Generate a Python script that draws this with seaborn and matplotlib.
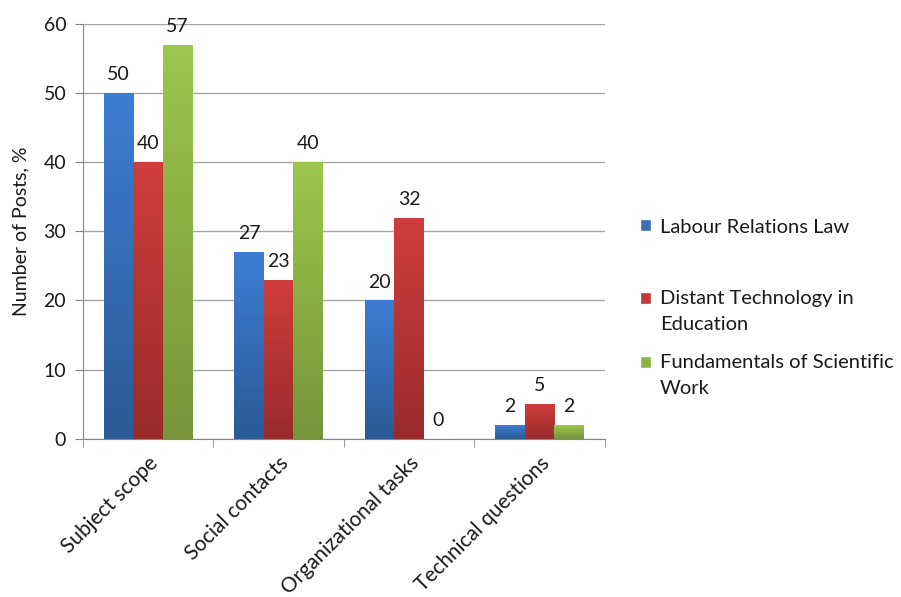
import numpy as np
import pandas as pd
import seaborn as sns
import matplotlib.pyplot as plt
from matplotlib.colors import LinearSegmentedColormap

categories = ["Subject scope", "Social contacts", "Organizational tasks", "Technical questions"]
series = ["Labour Relations Law", "Distant Technology in\nEducation", "Fundamentals of Scientific\nWork"]
labour = [50, 27, 20, 2]
distant = [40, 23, 32, 5]
fundamentals = [57, 40, 0, 2]

# colours: (top, bottom) of the gradient, mid colour for legend
grad = [("#3d7dd3", "#2b5a96"), ("#cf3d3d", "#9a2b2b"), ("#9cc64c", "#76953a")]
mids = ["#3a6fb8", "#c03a3a", "#8cb443"]

df = pd.DataFrame({
    "category": categories * 3,
    "series": np.repeat(series, len(categories)),
    "value": labour + distant + fundamentals,
})

sns.set_style("white")
plt.rcParams["font.family"] = ["Lato", "DejaVu Sans"]

fig = plt.figure(figsize=(9.01, 5.97), dpi=100)
ax = fig.add_axes([0.092, 0.265, 0.579, 0.695])

sns.barplot(data=df, x="category", y="value", hue="series", palette=mids,
            width=0.68, gap=0, ax=ax, saturation=1, legend=True)
handles, labels = ax.get_legend_handles_labels()
ax.get_legend().remove()

ax.set_ylim(0, 60)
ax.set_xlim(-0.5, 3.5)
ax.set_yticks(range(0, 61, 10))
ax.yaxis.grid(True, color="#a6a6a6", linewidth=1)
ax.set_axisbelow(True)
for s in ["top", "right"]:
    ax.spines[s].set_visible(False)
ax.spines["left"].set_color("#868686")
ax.spines["bottom"].set_color("#868686")

# gradient fill on each bar
for cont, (top, bot) in zip(ax.containers, grad):
    cmap = LinearSegmentedColormap.from_list("g", [bot, top])
    for p in cont.patches:
        x0, y0 = p.get_x(), p.get_y()
        w, h = p.get_width(), p.get_height()
        if h <= 0:
            continue
        img = ax.imshow(np.linspace(0, 1, 100).reshape(-1, 1), cmap=cmap,
                        extent=[x0, x0 + w, y0, y0 + h], origin="lower",
                        aspect="auto", zorder=2)
        img.set_clip_path(p)
        p.set_facecolor("none")
        p.set_edgecolor("none")
    ax.bar_label(cont, padding=7, fontsize=14, color="#1a1a1a")
ax.set_xlim(-0.5, 3.5)
ax.set_ylim(0, 60)
ax.set_aspect("auto")

ax.set_xlabel("")
ax.set_ylabel("Number of Posts, %", fontsize=14, color="#1a1a1a", labelpad=10)
ax.tick_params(axis="y", labelsize=14, colors="#1a1a1a", length=6, color="#868686",
               direction="out", left=True, pad=6)
ax.set_xticks(range(4))
ax.set_xticklabels(categories, rotation=45, ha="right", rotation_mode="anchor")

# category separator ticks on x axis
ax.set_xticks([-0.5, 0.5, 1.5, 2.5, 3.5], minor=True)
ax.tick_params(axis="x", which="major", length=0, pad=10, labelsize=15, labelcolor="#1a1a1a")
ax.tick_params(axis="x", which="minor", length=6, color="#868686", direction="out", bottom=True)

# legend: two pieces so the spacing follows the original (markers on first line)
leg_kw = dict(frameon=False, fontsize=14.5, handlelength=0.55, handleheight=0.55,
              handletextpad=0.45, borderpad=0, borderaxespad=0,
              bbox_transform=fig.transFigure)
leg1 = ax.legend(handles[:1], labels[:1], loc="center left",
                 bbox_to_anchor=(0.7103, 1 - 227 / 597), **leg_kw)
ax.add_artist(leg1)
leg2 = ax.legend(handles[1:], labels[1:], loc="upper left", labelspacing=1.05,
                 bbox_to_anchor=(0.7103, 1 - 290 / 597), **leg_kw)
for leg in (leg1, leg2):
    for t in leg.get_texts():
        t.set_color("#1a1a1a")
        t.set_linespacing(1.65)
for h in leg2.legend_handles:
    h.set_y(h.get_y() + 9.9)

fig.savefig("out.png", dpi=100)
